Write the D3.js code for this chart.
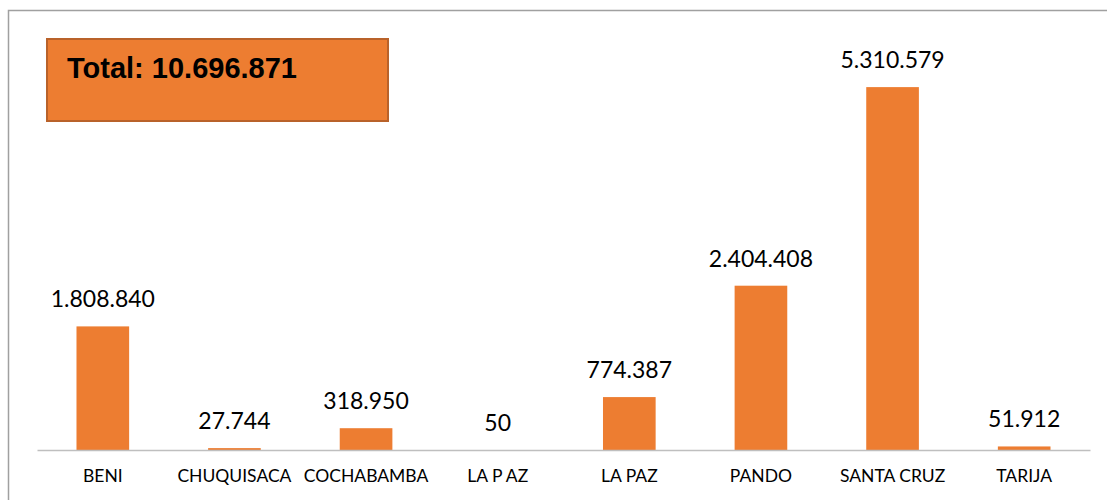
<!DOCTYPE html>
<html>
<head>
<meta charset="utf-8">
<script src="https://cdn.jsdelivr.net/npm/d3@7"></script>
<style>
  html, body { margin: 0; padding: 0; background: #fff; }
  svg { display: block; }
</style>
</head>
<body>
<svg id="chart" width="1107" height="500"></svg>
<script>
// Departments and their values
const categories = ["BENI", "CHUQUISACA", "COCHABAMBA", "LA P AZ", "LA PAZ", "PANDO", "SANTA CRUZ", "TARIJA"];
const values = [1808840, 27744, 318950, 50, 774387, 2404408, 5310579, 51912];
const totalLabel = "Total: 10.696.871";

const fmt = v => d3.format(",")(v).replace(/,/g, ".");

const svg = d3.select("#chart");
const W = 1107, H = 500;

// Outer chart frame
svg.append("rect")
  .attr("x", 8.5).attr("y", 10.5)
  .attr("width", W + 20).attr("height", H + 20)
  .attr("fill", "#fff")
  .attr("stroke", "#a0a0a0")
  .attr("stroke-width", 1.5);

const x = d3.scaleBand()
  .domain(categories)
  .range([37, 1090])
  .paddingInner(0.6)
  .paddingOuter(0.3);

const y = d3.scaleLinear()
  .domain([0, 6000000])
  .range([450, 40]);

// Bars
svg.append("g").selectAll("rect")
  .data(categories)
  .join("rect")
  .attr("x", d => x(d))
  .attr("width", x.bandwidth())
  .attr("y", (d, i) => y(values[i]))
  .attr("height", (d, i) => y(0) - y(values[i]))
  .attr("fill", "#ED7D31");

// Category axis
const axis = svg.append("g")
  .attr("transform", `translate(0,${y(0)})`)
  .call(d3.axisBottom(x).tickSize(0).tickPadding(0).tickSizeOuter(0));
axis.select(".domain").attr("stroke", "#bfbfbf").attr("stroke-width", 1.5);
axis.selectAll(".tick text")
  .attr("y", 32)
  .attr("dy", 0)
  .attr("fill", "#000")
  .style("font-family", "Lato, 'Open Sans', sans-serif")
  .style("font-size", "17.5px");

// Value labels
svg.append("g").selectAll("text")
  .data(categories)
  .join("text")
  .attr("x", d => x(d) + x.bandwidth() / 2)
  .attr("y", (d, i) => y(values[i]) - 19)
  .attr("text-anchor", "middle")
  .attr("fill", "#000")
  .style("font-family", "Lato, 'Open Sans', sans-serif")
  .style("font-size", "23px")
  .text((d, i) => fmt(values[i]));

// Total box
svg.append("rect")
  .attr("x", 47).attr("y", 39)
  .attr("width", 341).attr("height", 82)
  .attr("fill", "#ED7D31")
  .attr("stroke", "#B9622A")
  .attr("stroke-width", 2);

svg.append("text")
  .attr("x", 67).attr("y", 78)
  .attr("fill", "#000")
  .style("font-family", "'Liberation Sans', Arial, sans-serif")
  .style("font-weight", "bold")
  .style("font-size", "29px")
  .text(totalLabel);
</script>
</body>
</html>
